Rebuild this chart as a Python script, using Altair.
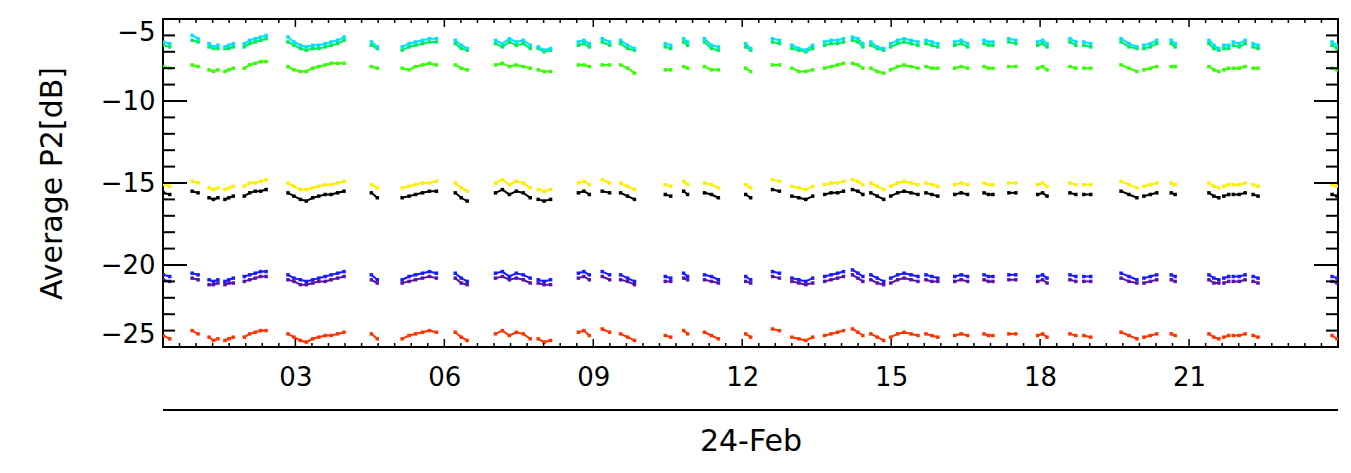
import altair as alt
import pandas as pd

# ---- data (hours of 24-Feb, values in dB) ----
chunk_hours = [
    [0.34, 0.47], [0.92, 1.04], [1.26, 1.35, 1.44], [1.58, 1.66, 1.75],
    [1.97, 2.08, 2.19, 2.30, 2.41],
    [2.85, 2.97, 3.10, 3.22, 3.35, 3.47, 3.60, 3.72, 3.85, 3.98],
    [4.53, 4.65], [5.15, 5.29, 5.42, 5.56, 5.70, 5.84], [6.22, 6.34, 6.46],
    [7.03, 7.17, 7.31, 7.45, 7.59, 7.73], [7.89, 8.01, 8.14], [8.70, 8.81, 8.92],
    [9.18, 9.33], [9.55, 9.69, 9.83], [10.45, 10.56], [10.82, 10.90],
    [11.24, 11.38, 11.52], [12.07, 12.17], [12.61, 12.75],
    [13.00, 13.14, 13.28, 13.42], [13.66, 13.79, 13.92, 14.04],
    [14.22, 14.33, 14.43], [14.59, 14.72, 14.85],
    [14.99, 15.13, 15.26, 15.40, 15.54], [15.70, 15.82, 15.94],
    [16.28, 16.41, 16.54], [16.87, 16.96, 17.05], [17.37, 17.51],
    [17.95, 18.05, 18.14], [18.60, 18.72], [18.88, 19.02],
    [19.63, 19.79, 19.95], [20.09, 20.22, 20.35], [20.64, 20.72],
    [21.40, 21.50, 21.60], [21.70, 21.80], [21.89, 22.01, 22.13],
    [22.29, 22.39], [23.88, 23.98],
]

cyan = [
    -6.4, -6.5, -6.0, -6.2, -6.5, -6.7, -6.6, -6.7, -6.6, -6.5,
    -6.5, -6.3, -6.2, -6.1, -6.0,
    -6.1, -6.4, -6.6, -6.7, -6.6, -6.6, -6.5, -6.4, -6.3, -6.1,
    -6.4, -6.7, -6.7, -6.5, -6.4, -6.3, -6.2, -6.2, -6.3, -6.6, -6.8,
    -6.3, -6.5, -6.2, -6.4, -6.3, -6.6, -6.7, -6.9, -6.8, -6.4, -6.3, -6.5,
    -6.2, -6.4, -6.3, -6.6, -6.8, -6.5, -6.6, -6.2, -6.4,
    -6.2, -6.6, -6.7, -6.5, -6.8, -6.2, -6.3,
    -6.6, -6.8, -6.9, -6.6, -6.4, -6.3, -6.3, -6.2,
    -6.1, -6.2, -6.5, -6.4, -6.7, -6.8,
    -6.5, -6.3, -6.2, -6.3, -6.4, -6.3, -6.4, -6.5,
    -6.4, -6.3, -6.5, -6.3, -6.4, -6.4, -6.2, -6.3,
    -6.4, -6.3, -6.5, -6.2, -6.4, -6.4, -6.5,
    -6.2, -6.5, -6.7, -6.6, -6.5, -6.3, -6.3, -6.5,
    -6.3, -6.6, -6.8, -6.6, -6.6, -6.4, -6.5, -6.3, -6.5, -6.6, -6.4, -6.6,
]
spring = [
    -6.6, -6.7, -6.3, -6.4, -6.7, -6.8, -6.8, -6.8, -6.8, -6.7,
    -6.7, -6.5, -6.4, -6.3, -6.2,
    -6.4, -6.6, -6.8, -6.9, -6.8, -6.8, -6.7, -6.6, -6.5, -6.3,
    -6.6, -6.8, -6.9, -6.7, -6.6, -6.5, -6.4, -6.4, -6.5, -6.8, -6.9,
    -6.5, -6.7, -6.4, -6.6, -6.5, -6.8, -6.8, -7.0, -6.9, -6.6, -6.5, -6.7,
    -6.4, -6.6, -6.5, -6.8, -6.9, -6.7, -6.8, -6.4, -6.6,
    -6.4, -6.8, -6.9, -6.7, -6.9, -6.4, -6.5,
    -6.8, -6.9, -7.0, -6.8, -6.6, -6.5, -6.5, -6.4,
    -6.3, -6.4, -6.7, -6.6, -6.8, -6.9,
    -6.7, -6.5, -6.4, -6.5, -6.6, -6.5, -6.6, -6.7,
    -6.6, -6.5, -6.7, -6.5, -6.6, -6.6, -6.4, -6.5,
    -6.6, -6.5, -6.7, -6.4, -6.6, -6.6, -6.7,
    -6.4, -6.7, -6.8, -6.8, -6.7, -6.5, -6.5, -6.7,
    -6.5, -6.8, -6.9, -6.8, -6.8, -6.6, -6.7, -6.5, -6.7, -6.8, -6.6, -6.8,
]
green = [
    -7.9, -8.0, -7.8, -7.9, -8.1, -8.2, -8.1, -8.2, -8.1, -8.0,
    -8.0, -7.8, -7.7, -7.6, -7.6,
    -7.9, -8.1, -8.2, -8.2, -8.0, -7.9, -7.8, -7.7, -7.7, -7.7,
    -7.9, -8.0, -8.0, -8.1, -7.9, -7.8, -7.7, -7.8, -7.8, -8.0, -8.1,
    -7.8, -7.7, -7.9, -7.8, -7.9, -8.0, -8.1, -8.2, -8.2, -7.8, -7.8, -7.9,
    -7.8, -7.8, -7.8, -8.0, -8.3, -8.1, -8.1, -7.9, -8.0,
    -7.9, -8.1, -8.1, -8.0, -8.2, -7.8, -7.8,
    -8.0, -8.2, -8.2, -8.1, -8.0, -7.9, -7.8, -7.7,
    -7.7, -7.8, -8.0, -8.0, -8.2, -8.3,
    -8.1, -7.9, -7.8, -7.9, -8.0, -7.9, -8.0, -8.0,
    -8.0, -7.9, -8.0, -7.9, -8.0, -8.0, -7.9, -7.9,
    -8.0, -7.9, -8.1, -7.9, -8.0, -8.0, -8.0,
    -7.8, -8.0, -8.2, -8.1, -8.0, -7.9, -7.9, -7.9,
    -7.9, -8.1, -8.2, -8.1, -8.0, -8.0, -8.0, -7.9, -8.0, -8.0, -8.0, -8.1,
]
yellow = [
    -15.1, -15.2, -14.9, -15.0, -15.3, -15.4, -15.3, -15.4, -15.3, -15.2,
    -15.2, -15.0, -15.0, -14.9, -14.8,
    -15.0, -15.2, -15.4, -15.4, -15.3, -15.2, -15.1, -15.1, -15.0, -14.9,
    -15.1, -15.3, -15.3, -15.2, -15.1, -15.0, -15.0, -14.9, -15.0, -15.3, -15.5,
    -15.0, -14.8, -15.1, -14.9, -15.0, -15.3, -15.4, -15.5, -15.4, -15.0, -14.9, -15.1,
    -14.8, -15.0, -15.0, -15.2, -15.4, -15.1, -15.2, -14.9, -15.1,
    -15.0, -15.1, -15.3, -15.1, -15.3, -14.8, -14.9,
    -15.2, -15.3, -15.4, -15.2, -15.1, -15.0, -15.0, -14.9,
    -14.8, -14.9, -15.1, -15.0, -15.2, -15.4,
    -15.2, -15.0, -14.9, -15.0, -15.1, -15.0, -15.1, -15.2,
    -15.1, -15.0, -15.1, -15.0, -15.1, -15.1, -15.0, -15.0,
    -15.1, -15.0, -15.2, -15.0, -15.1, -15.1, -15.1,
    -14.9, -15.1, -15.3, -15.2, -15.1, -15.0, -15.0, -15.1,
    -15.0, -15.2, -15.3, -15.2, -15.1, -15.1, -15.1, -15.0, -15.1, -15.2, -15.1, -15.2,
]
black = [
    -15.6, -15.7, -15.5, -15.6, -15.9, -16.0, -15.9, -16.0, -15.9, -15.8,
    -15.8, -15.6, -15.5, -15.5, -15.4,
    -15.6, -15.8, -16.0, -16.1, -15.9, -15.8, -15.7, -15.7, -15.6, -15.5,
    -15.6, -15.9, -15.9, -15.8, -15.7, -15.6, -15.5, -15.5, -15.6, -15.9, -16.1,
    -15.6, -15.4, -15.7, -15.5, -15.6, -15.9, -16.0, -16.1, -16.0, -15.6, -15.5, -15.7,
    -15.5, -15.6, -15.6, -15.8, -16.0, -15.7, -15.8, -15.5, -15.7,
    -15.6, -15.7, -15.9, -15.7, -15.9, -15.4, -15.5,
    -15.8, -15.9, -16.0, -15.8, -15.7, -15.6, -15.6, -15.5,
    -15.4, -15.5, -15.7, -15.6, -15.8, -16.0,
    -15.8, -15.6, -15.5, -15.6, -15.7, -15.6, -15.7, -15.8,
    -15.7, -15.6, -15.7, -15.6, -15.7, -15.7, -15.6, -15.6,
    -15.7, -15.6, -15.8, -15.6, -15.7, -15.7, -15.7,
    -15.5, -15.7, -15.9, -15.8, -15.7, -15.6, -15.6, -15.7,
    -15.6, -15.8, -15.9, -15.8, -15.7, -15.7, -15.7, -15.6, -15.7, -15.8, -15.7, -15.8,
]
blue = [
    -20.6, -20.7, -20.5, -20.6, -20.9, -21.0, -20.9, -21.0, -20.9, -20.8,
    -20.7, -20.6, -20.5, -20.4, -20.4,
    -20.6, -20.8, -20.9, -21.0, -20.9, -20.8, -20.7, -20.6, -20.5, -20.4,
    -20.6, -20.9, -20.9, -20.7, -20.6, -20.5, -20.4, -20.5, -20.5, -20.8, -21.0,
    -20.5, -20.4, -20.7, -20.5, -20.6, -20.8, -20.9, -21.0, -20.9, -20.5, -20.4, -20.6,
    -20.4, -20.6, -20.6, -20.8, -21.0, -20.7, -20.8, -20.5, -20.7,
    -20.6, -20.7, -20.9, -20.7, -20.9, -20.4, -20.5,
    -20.8, -20.9, -21.0, -20.8, -20.7, -20.6, -20.5, -20.4,
    -20.3, -20.5, -20.7, -20.6, -20.8, -21.0,
    -20.8, -20.6, -20.5, -20.6, -20.7, -20.6, -20.7, -20.8,
    -20.7, -20.6, -20.7, -20.6, -20.7, -20.7, -20.6, -20.6,
    -20.7, -20.6, -20.8, -20.6, -20.7, -20.7, -20.7,
    -20.5, -20.7, -20.9, -20.8, -20.7, -20.6, -20.6, -20.7,
    -20.6, -20.8, -20.9, -20.8, -20.7, -20.7, -20.7, -20.6, -20.7, -20.8, -20.7, -20.8,
]
purple = [
    -20.9, -21.0, -20.8, -20.9, -21.2, -21.2, -21.1, -21.2, -21.1, -21.1,
    -21.0, -20.9, -20.8, -20.7, -20.7,
    -20.9, -21.0, -21.2, -21.2, -21.1, -21.0, -21.0, -20.9, -20.8, -20.7,
    -20.9, -21.1, -21.1, -21.0, -20.9, -20.8, -20.7, -20.8, -20.8, -21.1, -21.2,
    -20.8, -20.7, -20.9, -20.8, -20.9, -21.1, -21.1, -21.2, -21.2, -20.8, -20.7, -20.9,
    -20.7, -20.9, -20.9, -21.0, -21.2, -21.0, -21.0, -20.8, -20.9,
    -20.9, -21.0, -21.1, -21.0, -21.1, -20.7, -20.8,
    -21.0, -21.1, -21.2, -21.1, -21.0, -20.9, -20.8, -20.7,
    -20.6, -20.8, -21.0, -20.9, -21.1, -21.2,
    -21.1, -20.9, -20.8, -20.9, -21.0, -20.9, -21.0, -21.0,
    -21.0, -20.9, -21.0, -20.9, -21.0, -21.0, -20.9, -20.9,
    -21.0, -20.9, -21.1, -20.9, -21.0, -21.0, -21.0,
    -20.8, -21.0, -21.1, -21.1, -21.0, -20.9, -20.9, -21.0,
    -20.9, -21.1, -21.1, -21.1, -21.0, -21.0, -21.0, -20.9, -21.0, -21.1, -21.0, -21.1,
]
red = [
    -24.3, -24.5, -24.0, -24.2, -24.4, -24.6, -24.5, -24.6, -24.5, -24.4,
    -24.4, -24.2, -24.1, -24.0, -24.0,
    -24.2, -24.4, -24.6, -24.7, -24.5, -24.4, -24.3, -24.3, -24.2, -24.1,
    -24.2, -24.5, -24.5, -24.3, -24.2, -24.1, -24.0, -24.1, -24.1, -24.4, -24.6,
    -24.2, -24.0, -24.3, -24.1, -24.2, -24.5, -24.5, -24.7, -24.6, -24.1, -24.0, -24.3,
    -23.9, -24.1, -24.2, -24.4, -24.6, -24.3, -24.4, -24.0, -24.2,
    -24.1, -24.3, -24.5, -24.2, -24.4, -23.9, -24.0,
    -24.4, -24.5, -24.6, -24.4, -24.3, -24.2, -24.1, -24.0,
    -23.9, -24.1, -24.3, -24.2, -24.4, -24.6,
    -24.4, -24.2, -24.1, -24.2, -24.3, -24.2, -24.3, -24.4,
    -24.3, -24.2, -24.3, -24.2, -24.3, -24.3, -24.2, -24.2,
    -24.3, -24.2, -24.4, -24.2, -24.3, -24.3, -24.4,
    -24.1, -24.3, -24.5, -24.4, -24.3, -24.2, -24.2, -24.3,
    -24.2, -24.4, -24.5, -24.4, -24.3, -24.3, -24.3, -24.2, -24.3, -24.4, -24.3, -24.5,
]

series_names = ["black", "red", "purple", "blue", "yellow", "green", "spring", "cyan"]
series_values = [black, red, purple, blue, yellow, green, spring, cyan]
series_colors = ["#000000", "#ff3300", "#5a14a8", "#1a1aff", "#ffee00", "#33ff00", "#00ee55", "#00e0ff"]

x_major = [3, 6, 9, 12, 15, 18, 21]
y_major = [-20, -15, -10]
y_labels = [-25, -20, -15, -10, -5]

# ---- build long table ----
hours = [h for c in chunk_hours for h in c]
segs = [i for i, c in enumerate(chunk_hours) for _ in c]
rows = []
for name, vals in zip(series_names, series_values):
    if len(vals) != len(hours):
        raise ValueError(f"{name}: {len(vals)} values vs {len(hours)} times")
    for h, s, v in zip(hours, segs, vals):
        rows.append({"hour": h, "seg": s, "series": name, "value": v})
df = pd.DataFrame(rows)

x_minor = [k / 3 for k in range(2, 72) if k % 9 != 0]
y_minor = [v for v in range(-24, -5) if v % 5 != 0]

W, H = 1175, 328
FONT = "DejaVu Sans"
xscale = alt.Scale(domain=[1 / 3, 24], nice=False, zero=False)
yscale = alt.Scale(domain=[-25, -5], nice=False, zero=False)
cscale = alt.Scale(domain=series_names, range=series_colors)

x_axis = alt.Axis(
    values=x_major, ticks=False, domain=False, grid=False,
    labelExpr="(datum.value < 10 ? '0' : '') + datum.value",
    labelFont=FONT, labelFontSize=26, labelColor="black", labelPadding=17,
    title="24-Feb", titleFont=FONT, titleFontSize=30, titleFontWeight="normal",
    titleColor="black", titleBaseline="middle", titleY=94,
)
y_axis = alt.Axis(
    values=y_labels, ticks=False, domain=False, grid=False, labelFlush=True,
    labelFont=FONT, labelFontSize=26, labelColor="black", labelPadding=8,
    title="Average  P2[dB]", titleFont=FONT, titleFontSize=30,
    titleFontWeight="normal", titleColor="black", titleAngle=270,
    titleBaseline="middle", titleX=-111, titleY=H / 2,
)

def X(field):
    return alt.X(field, scale=xscale, axis=x_axis)

def Y(field):
    return alt.Y(field, scale=yscale, axis=y_axis)

base = alt.Chart(df)
lines = base.mark_line(strokeWidth=2, clip=True).encode(
    x=X("hour:Q"), y=Y("value:Q"),
    color=alt.Color("series:N", scale=cscale, legend=None),
    detail="seg:N", order="hour:Q",
)
pts = base.mark_square(size=12, opacity=1, clip=True).encode(
    x=X("hour:Q"), y=Y("value:Q"),
    color=alt.Color("series:N", scale=cscale, legend=None),
)

def xticks(vals, length, width):
    d = pd.DataFrame({"v": vals})
    bottom = alt.Chart(d).mark_rule(color="black", strokeWidth=width).encode(
        x=X("v:Q"), y=alt.value(H), y2=alt.value(H - length))
    top = alt.Chart(d).mark_rule(color="black", strokeWidth=width).encode(
        x=X("v:Q"), y=alt.value(0), y2=alt.value(length))
    return [bottom, top]

def yticks(vals, length, width):
    d = pd.DataFrame({"v": vals})
    left = alt.Chart(d).mark_rule(color="black", strokeWidth=width).encode(
        y=Y("v:Q"), x=alt.value(0), x2=alt.value(length))
    right = alt.Chart(d).mark_rule(color="black", strokeWidth=width).encode(
        y=Y("v:Q"), x=alt.value(W - length), x2=alt.value(W))
    return [left, right]

sep = alt.Chart(pd.DataFrame({"v": [0]})).mark_rule(color="black", strokeWidth=2).encode(
    x=alt.value(0), x2=alt.value(W), y=alt.value(391))

layers = [lines, pts] + xticks(x_major, 8, 1.5) + xticks(x_minor, 4, 1.5) \
    + yticks(y_major, 24, 2) + yticks(y_minor, 12, 2) + [sep]

chart = alt.layer(*layers).properties(
    width=W, height=H,
    autosize=alt.AutoSizeParams(type="none"),
    padding={"left": 155, "top": 11, "right": 5, "bottom": 110},
).configure(font=FONT).configure_view(stroke="black", strokeWidth=2)

chart.save("out.html", embed_options={"renderer": "svg", "actions": False})
